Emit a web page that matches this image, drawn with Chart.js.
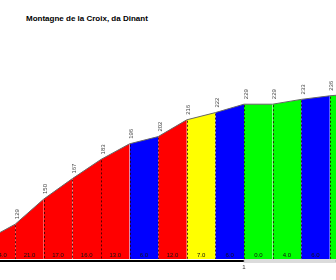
<!DOCTYPE html>
<html>
<head>
<meta charset="utf-8">
<script src="https://cdn.jsdelivr.net/npm/chart.js@4/dist/chart.umd.min.js"></script>
<style>
  html,body{margin:0;padding:0;background:#fff;}
  #wrap{position:relative;width:336px;height:280px;overflow:hidden;}
  #title{position:absolute;left:26px;top:15px;font:bold 8px "Liberation Sans",Arial,sans-serif;line-height:8px;color:#000;white-space:nowrap;}
  canvas{position:absolute;left:0;top:0;}
</style>
</head>
<body>
<div id="wrap">
  <div id="title">Montagne de la Croix, da Dinant</div>
  <canvas id="c" width="336" height="280"></canvas>
</div>
<script>
// distance (km) at each segment boundary
const distances = [0.1, 0.2, 0.3, 0.4, 0.5, 0.6, 0.7, 0.8, 0.9, 1.0, 1.1, 1.2, 1.3, 1.4];
// altitude (m) at each boundary
const altitudes = [116, 129, 150, 167, 183, 196, 202, 216, 222, 229, 229, 233, 236, 238];
// gradient label of each segment (%)
const gradients = ['14.0', '21.0', '17.0', '16.0', '13.0', '6.0', '12.0', '7.0', '6.0', '0.0', '4.0', '6.0', '2.0'];
// colour of each segment
const segColors = ['#ff0000', '#ff0000', '#ff0000', '#ff0000', '#ff0000', '#0000ff', '#ff0000', '#ffff00', '#0000ff', '#00ff00', '#00ff00', '#0000ff', '#00ff00'];
// km tick labels
const kmTicks = [1];

const datasets = [];
for (let i = 0; i < distances.length - 1; i++) {
  datasets.push({
    data: [{x: distances[i], y: altitudes[i]}, {x: distances[i + 1], y: altitudes[i + 1]}],
    fill: 'start',
    backgroundColor: segColors[i],
    borderColor: '#666666',
    borderWidth: 1,
    pointRadius: 0,
    tension: 0
  });
}

const overlay = {
  id: 'overlay',
  afterDatasetsDraw(chart) {
    const ctx = chart.ctx;
    const xs = chart.scales.x, ys = chart.scales.y;
    const bottom = chart.chartArea.bottom;
    ctx.save();
    // dashed boundary lines
    ctx.strokeStyle = 'rgba(40,0,0,0.8)';
    ctx.lineWidth = 1;
    ctx.setLineDash([2, 2]);
    for (let i = 0; i < distances.length; i++) {
      const x = Math.round(xs.getPixelForValue(distances[i])) + 0.5;
      ctx.beginPath();
      ctx.moveTo(x, ys.getPixelForValue(altitudes[i]) + 1);
      ctx.lineTo(x, bottom);
      ctx.stroke();
    }
    ctx.setLineDash([]);
    // gradient labels
    ctx.fillStyle = '#111';
    ctx.font = '6px "Liberation Sans", Arial, sans-serif';
    ctx.textAlign = 'center';
    ctx.textBaseline = 'alphabetic';
    for (let i = 0; i < gradients.length; i++) {
      const x = xs.getPixelForValue((distances[i] + distances[i + 1]) / 2);
      ctx.fillText(gradients[i], x, bottom - 2);
    }
    // altitude labels (rotated)
    ctx.fillStyle = '#444';
    ctx.textAlign = 'left';
    ctx.textBaseline = 'middle';
    for (let i = 0; i < distances.length; i++) {
      const x = xs.getPixelForValue(distances[i]) + 2;
      const y = ys.getPixelForValue(altitudes[i]) - 5;
      ctx.save();
      ctx.translate(x, y);
      ctx.rotate(-Math.PI / 2);
      ctx.fillText(String(altitudes[i]), 0, 0);
      ctx.restore();
    }
    // km bar
    let prev = xs.min;
    const stops = kmTicks.concat([xs.max]);
    let black = true;
    stops.forEach(v => {
      const a = xs.getPixelForValue(prev), b = xs.getPixelForValue(v);
      if (black) {
        ctx.fillStyle = '#000';
        ctx.fillRect(a, bottom + 1, b - a, 2);
      } else {
        ctx.fillStyle = '#fff';
        ctx.fillRect(a, bottom + 1, b - a, 2);
        ctx.strokeStyle = '#999';
        ctx.lineWidth = 0.7;
        ctx.strokeRect(a, bottom + 1, b - a, 2);
      }
      black = !black;
      prev = v;
    });
    // km tick labels
    ctx.fillStyle = '#333';
    ctx.textAlign = 'center';
    ctx.textBaseline = 'alphabetic';
    kmTicks.forEach(v => {
      ctx.fillText(String(v), xs.getPixelForValue(v), bottom + 10);
    });
    ctx.restore();
  }
};

new Chart(document.getElementById('c'), {
  type: 'line',
  data: {datasets},
  options: {
    responsive: false,
    animation: false,
    events: [],
    layout: {padding: {top: 31, bottom: 21, left: 0, right: 0}},
    plugins: {legend: {display: false}, tooltip: {enabled: false}, title: {display: false}},
    scales: {
      x: {type: 'linear', min: 0.14685, max: 1.32168, display: false},
      y: {type: 'linear', min: 100, max: 290, display: false}
    }
  },
  plugins: [overlay]
});
</script>
</body>
</html>
